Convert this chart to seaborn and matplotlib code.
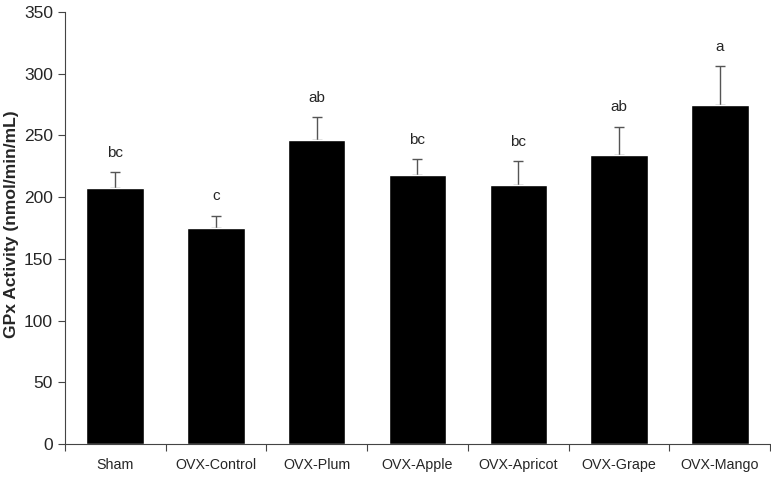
import pandas as pd
import seaborn as sns
import matplotlib.pyplot as plt
import numpy as np

# values
groups = ["Sham", "OVX-Control", "OVX-Plum", "OVX-Apple", "OVX-Apricot", "OVX-Grape", "OVX-Mango"]
gpx = [207, 175, 246, 218, 210, 234, 275]
sem = [13, 10, 19, 13, 19, 23, 31]
letters = ["bc", "c", "ab", "bc", "bc", "ab", "a"]

df = pd.DataFrame({"group": groups, "gpx": gpx, "sem": sem})

sns.set_style("ticks")
plt.rcParams['font.family'] = ['Liberation Sans', 'DejaVu Sans']

fig = plt.figure(figsize=(7.71, 4.78), dpi=100)
ax = fig.add_axes([0.084, 0.071, 0.915, 0.904])

sns.barplot(data=df, x="group", y="gpx", color="black", width=0.57,
            saturation=1, ax=ax, errorbar=None)

# upper error bars only, drawn behind the bars so the lower cap is hidden
x = np.arange(len(groups))
ax.errorbar(x, df["gpx"], yerr=[np.zeros(len(sem)), df["sem"]], fmt="none",
            ecolor="#555555", elinewidth=1, capsize=3.5, capthick=1, zorder=0.5)

for xi, v, e, lab in zip(x, gpx, sem, letters):
    ax.text(xi, v + e + 10, lab, ha="center", va="bottom", fontsize=11)

ax.set_xlim(-0.5, len(groups) - 0.5)
ax.set_ylim(0, 350)
ax.set_yticks(range(0, 351, 50))
ax.tick_params(axis="y", labelsize=12.5, length=5, width=0.8, color="#444444")
ax.tick_params(axis="x", which="major", length=0, labelsize=10.3, pad=10)
ax.set_xticks(np.arange(-0.5, len(groups), 1), minor=True)
ax.tick_params(axis="x", which="minor", length=5, width=0.8, color="#444444")
ax.set_xlabel("")
ax.set_ylabel("GPx Activity (nmol/min/mL)", fontsize=12.6, fontweight="bold")
ax.yaxis.set_label_coords(-0.065, 0.509)
for s in ["top", "right"]:
    ax.spines[s].set_visible(False)
for s in ["left", "bottom"]:
    ax.spines[s].set_color("#444444")
    ax.spines[s].set_linewidth(0.8)

fig.savefig("out.png", dpi=100)
